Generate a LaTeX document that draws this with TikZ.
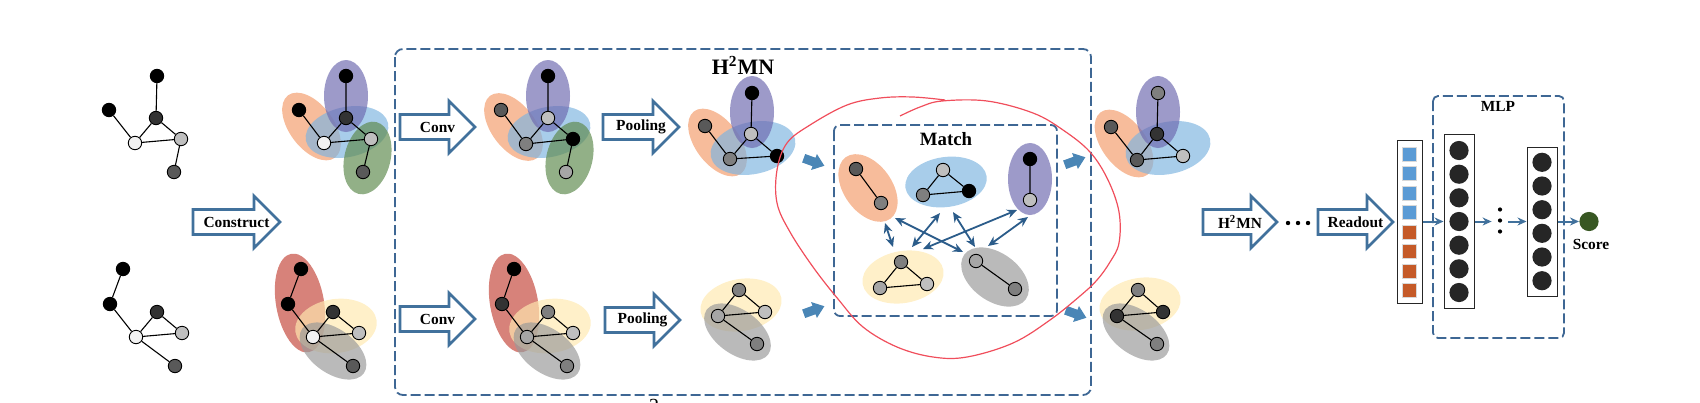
\documentclass[tikz,border=0pt]{standalone}
\usepackage{fontspec}
\setmainfont{Liberation Serif}
\usetikzlibrary{arrows.meta}

\begin{document}
\begin{tikzpicture}[x=0.5pt, y=-0.5pt,
  vtx/.style={circle, draw=black, line width=0.45pt, minimum size=6.7pt, inner sep=0pt},
  edge/.style={line width=0.55pt},
  ell/.style={fill opacity=0.68},
  hollow/.style={draw=arrblue, line width=1.35pt, fill=white},
  lbl/.style={font=\bfseries\fontsize{7.7}{9}\selectfont, inner sep=0pt},
  dbox/.style={draw=boxblue, line width=0.9pt, dash pattern=on 5pt off 2pt},
  blk/.style={fill=blkblue},
  mt/.style={{Stealth[length=5pt,width=4.4pt]}-{Stealth[length=5pt,width=4.4pt]}, draw=matchblue, line width=0.9pt},
  flow/.style={-{Stealth[length=4.5pt,width=4pt]}, draw=arrblue, line width=1pt},
  layer/.style={draw=black!85, line width=0.5pt, inner sep=0pt},
  sq/.style={draw=black!15, line width=0.4pt, minimum size=7pt, inner sep=0pt},
  neuron/.style={circle, fill=neur, minimum size=9.6pt, inner sep=0pt}]
\definecolor{arrblue}{HTML}{41719C}
\definecolor{boxblue}{HTML}{3E6794}
\definecolor{blkblue}{HTML}{4A86B6}
\definecolor{matchblue}{HTML}{2B5C8A}
\definecolor{neur}{HTML}{262626}
\definecolor{vecblue}{HTML}{5B9BD5}
\definecolor{vecorange}{HTML}{C55A28}
\definecolor{scoregreen}{HTML}{385723}
\definecolor{loopred}{HTML}{F04E5C}
\definecolor{eorange}{HTML}{F39C6B}
\definecolor{epurple}{HTML}{6E6AB0}
\definecolor{eblue}{HTML}{7FB5E0}
\definecolor{egreen}{HTML}{5E8A4E}
\definecolor{ered}{HTML}{C4473B}
\definecolor{eyellow}{HTML}{FFE9B0}
\definecolor{egray}{HTML}{9A9A9A}
\definecolor{vdark}{HTML}{333333}
\definecolor{vmid}{HTML}{595959}
\definecolor{vgray}{HTML}{7F7F7F}
\definecolor{vsoft}{HTML}{A6A6A6}
\definecolor{vlight}{HTML}{BFBFBF}
\definecolor{vwhite}{HTML}{F2F2F2}
\useasboundingbox (0,0) rectangle (1700,402);

\node[vtx, fill=black] (a1) at (157,76) {};
\node[vtx, fill=black] (a2) at (109,110) {};
\node[vtx, fill=vdark] (a3) at (156,118) {};
\node[vtx, fill=vwhite] (a4) at (135,143) {};
\node[vtx, fill=vlight] (a5) at (181,139) {};
\node[vtx, fill=vmid] (a6) at (174,172) {};
\draw[edge] (a1) -- (a3) (a2) -- (a4) (a3) -- (a4) (a3) -- (a5) (a4) -- (a5) (a5) -- (a6);
\node[vtx, fill=black] (b1) at (123,269) {};
\node[vtx, fill=black] (b2) at (110,304) {};
\node[vtx, fill=vdark] (b3) at (157,312) {};
\node[vtx, fill=vwhite] (b4) at (136,337) {};
\node[vtx, fill=vlight] (b5) at (182,333) {};
\node[vtx, fill=vmid] (b6) at (175,366) {};
\draw[edge] (b1) -- (b2) (b2) -- (b4) (b3) -- (b4) (b3) -- (b5) (b4) -- (b5) (b4) -- (b6);

\draw[hollow] (193, 222 - 12.5) -- (254, 222 - 12.5) -- (254, 222 - 26) -- (280, 222) -- (254, 222 + 26) -- (254, 222 + 12.5) -- (193, 222 + 12.5) -- cycle (236.5, 222) node[lbl] (construct) {Construct};

\fill[eorange, ell, rotate around={-53:(311.5,126.5)}] (311.5,126.5) ellipse [x radius=39, y radius=22];
\fill[eblue, ell, rotate around={12:(347,132)}] (347,132) ellipse [x radius=42, y radius=25];
\fill[epurple, ell] (346,96) ellipse [x radius=22, y radius=36];
\fill[egreen, ell, rotate around={76:(367.5,158)}] (367.5,158) ellipse [x radius=37, y radius=23];
\node[vtx, fill=black] (ca1) at (346,76) {};
\node[vtx, fill=black] (ca2) at (299,110) {};
\node[vtx, fill=vdark] (ca3) at (346,118) {};
\node[vtx, fill=vwhite] (ca4) at (324,143) {};
\node[vtx, fill=vlight] (ca5) at (371,139) {};
\node[vtx, fill=vmid] (ca6) at (363,172) {};
\draw[edge] (ca1) -- (ca3) (ca2) -- (ca4) (ca3) -- (ca4) (ca3) -- (ca5) (ca4) -- (ca5) (ca5) -- (ca6);
\fill[ered, ell, rotate around={100:(300,303)}] (300,303) ellipse [x radius=50, y radius=24];
\fill[eyellow, ell, rotate around={8:(336,326)}] (336,326) ellipse [x radius=41, y radius=27];
\fill[egray, ell, rotate around={-36:(333,351)}] (333,351) ellipse [x radius=38, y radius=22];
\node[vtx, fill=black] (cb1) at (301,269) {};
\node[vtx, fill=black] (cb2) at (288,304) {};
\node[vtx, fill=vdark] (cb3) at (333,312) {};
\node[vtx, fill=vwhite] (cb4) at (313,337) {};
\node[vtx, fill=vlight] (cb5) at (359,333) {};
\node[vtx, fill=vmid] (cb6) at (353,366) {};
\draw[edge] (cb1) -- (cb2) (cb2) -- (cb4) (cb3) -- (cb4) (cb3) -- (cb5) (cb4) -- (cb5) (cb4) -- (cb6);

\draw[dbox, rounded corners=4pt] (395,49) rectangle (1091,395);
\node[font=\bfseries\fontsize{11}{13}\selectfont, inner sep=0pt] (h2mn) at (743,65) {H\textsuperscript{2}MN};
\node[font=\fontsize{10}{12}\selectfont, inner sep=0pt, anchor=north] (cut2) at (654,398.5) {2};

\draw[hollow] (400, 127 - 12.5) -- (449, 127 - 12.5) -- (449, 127 - 26) -- (475, 127) -- (449, 127 + 26) -- (449, 127 + 12.5) -- (400, 127 + 12.5) -- cycle (437.5, 127) node[lbl] (conva) {Conv};
\draw[hollow] (400, 319 - 12.5) -- (449, 319 - 12.5) -- (449, 319 - 26) -- (475, 319) -- (449, 319 + 26) -- (449, 319 + 12.5) -- (400, 319 + 12.5) -- cycle (437.5, 319) node[lbl] (convb) {Conv};

\fill[eorange, ell, rotate around={-53:(513.5,127)}] (513.5,127) ellipse [x radius=39, y radius=22];
\fill[eblue, ell, rotate around={12:(549,132)}] (549,132) ellipse [x radius=42, y radius=25];
\fill[epurple, ell] (548,96) ellipse [x radius=22, y radius=36];
\fill[egreen, ell, rotate around={76:(569.5,158)}] (569.5,158) ellipse [x radius=37, y radius=23];
\node[vtx, fill=black] (va1) at (548,76) {};
\node[vtx, fill=vmid] (va2) at (501,110) {};
\node[vtx, fill=vlight] (va3) at (548,118) {};
\node[vtx, fill=vgray] (va4) at (526,144) {};
\node[vtx, fill=black] (va5) at (573,139) {};
\node[vtx, fill=vsoft] (va6) at (566,172) {};
\draw[edge] (va1) -- (va3) (va2) -- (va4) (va3) -- (va4) (va3) -- (va5) (va4) -- (va5) (va5) -- (va6);
\fill[ered, ell, rotate around={100:(514,303)}] (514,303) ellipse [x radius=50, y radius=24];
\fill[eyellow, ell, rotate around={8:(550,326)}] (550,326) ellipse [x radius=41, y radius=27];
\fill[egray, ell, rotate around={-36:(547,351)}] (547,351) ellipse [x radius=38, y radius=22];
\node[vtx, fill=black] (vb1) at (514,269) {};
\node[vtx, fill=vdark] (vb2) at (502,304) {};
\node[vtx, fill=vgray] (vb3) at (548,312) {};
\node[vtx, fill=vsoft] (vb4) at (527,337) {};
\node[vtx, fill=vlight] (vb5) at (573,333) {};
\node[vtx, fill=vgray] (vb6) at (567,366) {};
\draw[edge] (vb1) -- (vb2) (vb2) -- (vb4) (vb3) -- (vb4) (vb3) -- (vb5) (vb4) -- (vb5) (vb4) -- (vb6);

\draw[hollow] (603, 127 - 12.5) -- (653, 127 - 12.5) -- (653, 127 - 26) -- (679, 127) -- (653, 127 + 26) -- (653, 127 + 12.5) -- (603, 127 + 12.5) -- cycle (641, 127) node[lbl] (poola) {Pooling};
\draw[hollow] (605, 320 - 12.5) -- (654, 320 - 12.5) -- (654, 320 - 26) -- (680, 320) -- (654, 320 + 26) -- (654, 320 + 12.5) -- (605, 320 + 12.5) -- cycle (642.5, 320) node[lbl] (poolb) {Pooling};

\fill[eorange, ell, rotate around={-53:(717.5,142.5)}] (717.5,142.5) ellipse [x radius=39, y radius=22];
\fill[eblue, ell, rotate around={12:(753,148)}] (753,148) ellipse [x radius=43, y radius=26];
\fill[epurple, ell] (752,112) ellipse [x radius=22, y radius=36];
\node[vtx, fill=black] (pa1) at (752,93) {};
\node[vtx, fill=vmid] (pa2) at (705,126) {};
\node[vtx, fill=vlight] (pa3) at (751,134) {};
\node[vtx, fill=vgray] (pa4) at (730,159) {};
\node[vtx, fill=black] (pa5) at (777,156) {};
\draw[edge] (pa1) -- (pa3) (pa2) -- (pa4) (pa3) -- (pa4) (pa3) -- (pa5) (pa4) -- (pa5);
\fill[eyellow, ell, rotate around={10:(741,305)}] (741,305) ellipse [x radius=41, y radius=26];
\fill[egray, ell, rotate around={-36:(737.5,332)}] (737.5,332) ellipse [x radius=38, y radius=22];
\node[vtx, fill=vgray] (pb1) at (739,290) {};
\node[vtx, fill=vsoft] (pb2) at (718,316) {};
\node[vtx, fill=vlight] (pb3) at (765,312) {};
\node[vtx, fill=vgray] (pb4) at (757,344) {};
\draw[edge] (pb1) -- (pb2) (pb1) -- (pb3) (pb2) -- (pb3) (pb2) -- (pb4);

\fill[blk, shift={(814,162)}, rotate=-20] (-11,-4.5) -- (0,-4.5) -- (0,-8.5) -- (11,0) -- (0,8.5) -- (0,4.5) -- (-11,4.5) -- cycle;
\fill[blk, shift={(814,310)}, rotate=20] (-11,-4.5) -- (0,-4.5) -- (0,-8.5) -- (11,0) -- (0,8.5) -- (0,4.5) -- (-11,4.5) -- cycle;
\fill[blk, shift={(1075,161)}, rotate=20] (-11,-4.5) -- (0,-4.5) -- (0,-8.5) -- (11,0) -- (0,8.5) -- (0,4.5) -- (-11,4.5) -- cycle;
\fill[blk, shift={(1076,314)}, rotate=-20] (-11,-4.5) -- (0,-4.5) -- (0,-8.5) -- (11,0) -- (0,8.5) -- (0,4.5) -- (-11,4.5) -- cycle;

\draw[dbox, rounded corners=3pt] (834,125) rectangle (1057,316);
\node[font=\bfseries\fontsize{9.4}{11}\selectfont, inner sep=0pt] (matchlbl) at (946,139) {Match};
\fill[eorange, ell, rotate around={-54:(868,188)}] (868,188) ellipse [x radius=38, y radius=24];
\fill[eblue, ell, rotate around={8:(946,182)}] (946,182) ellipse [x radius=41, y radius=25];
\fill[epurple, ell] (1030,179) ellipse [x radius=22, y radius=36];
\fill[eyellow, ell, rotate around={10:(903,277)}] (903,277) ellipse [x radius=41, y radius=26];
\fill[egray, ell, rotate around={-36:(995,277)}] (995,277) ellipse [x radius=38, y radius=24];
\node[vtx, fill=vmid] (mo1) at (856,169) {};
\node[vtx, fill=vgray] (mo2) at (881,203) {};
\node[vtx, fill=vlight] (mb1) at (943,170) {};
\node[vtx, fill=vgray] (mb2) at (923,195) {};
\node[vtx, fill=black] (mb3) at (969,191) {};
\node[vtx, fill=black] (mp1) at (1030,159) {};
\node[vtx, fill=vlight] (mp2) at (1030,200) {};
\node[vtx, fill=vgray] (my1) at (901,262) {};
\node[vtx, fill=vsoft] (my2) at (880,288) {};
\node[vtx, fill=vlight] (my3) at (927,284) {};
\node[vtx, fill=vsoft] (mg1) at (976,261) {};
\node[vtx, fill=vgray] (mg2) at (1015,289) {};
\draw[edge] (mo1) -- (mo2) (mb1) -- (mb2) (mb1) -- (mb3) (mb2) -- (mb3) (mp1) -- (mp2);
\draw[edge] (my1) -- (my2) (my1) -- (my3) (my2) -- (my3) (mg1) -- (mg2);
\coordinate (e1a) at (885,223); \coordinate (e1b) at (893,247);
\coordinate (e2a) at (895,218); \coordinate (e2b) at (963,252);
\coordinate (e3a) at (940,213); \coordinate (e3b) at (912,247);
\coordinate (e4a) at (953,212); \coordinate (e4b) at (975,247);
\coordinate (e5a) at (1017,210); \coordinate (e5b) at (923,249);
\coordinate (e6a) at (1028,217); \coordinate (e6b) at (988,246);
\draw[mt] (e1a) -- (e1b);
\draw[mt] (e2a) -- (e2b);
\draw[mt] (e3a) -- (e3b);
\draw[mt] (e4a) -- (e4b);
\draw[mt] (e5a) -- (e5b);
\draw[mt] (e6a) -- (e6b);

\fill[eorange, ell, rotate around={-53:(1124,143.5)}] (1124,143.5) ellipse [x radius=39, y radius=22];
\fill[eblue, ell, rotate around={12:(1168,148)}] (1168,148) ellipse [x radius=43, y radius=26];
\fill[epurple, ell] (1158,112) ellipse [x radius=22, y radius=36];
\node[vtx, fill=vgray] (fa1) at (1158,93) {};
\node[vtx, fill=vmid] (fa2) at (1111,127) {};
\node[vtx, fill=vdark] (fa3) at (1157,134) {};
\node[vtx, fill=vmid] (fa4) at (1137,160) {};
\node[vtx, fill=vlight] (fa5) at (1183,156) {};
\draw[edge] (fa1) -- (fa3) (fa2) -- (fa4) (fa3) -- (fa4) (fa3) -- (fa5) (fa4) -- (fa5);
\fill[eyellow, ell, rotate around={10:(1140,304)}] (1140,304) ellipse [x radius=41, y radius=26];
\fill[egray, ell, rotate around={-36:(1136,332)}] (1136,332) ellipse [x radius=38, y radius=22];
\node[vtx, fill=vgray] (fb1) at (1138,290) {};
\node[vtx, fill=vdark] (fb2) at (1117,316) {};
\node[vtx, fill=vdark] (fb3) at (1163,312) {};
\node[vtx, fill=vgray] (fb4) at (1157,344) {};
\draw[edge] (fb1) -- (fb2) (fb1) -- (fb3) (fb2) -- (fb3) (fb2) -- (fb4);

\draw[hollow] (1203, 222 - 12.5) -- (1251, 222 - 12.5) -- (1251, 222 - 26) -- (1277, 222) -- (1251, 222 + 26) -- (1251, 222 + 12.5) -- (1203, 222 + 12.5) -- cycle (1240, 222) node[lbl] (h2mnarrow) {H\textsuperscript{2}MN};
\fill (1288,223) circle[radius=2.2] (1298,223) circle[radius=2.2] (1308,223) circle[radius=2.2];
\draw[hollow] (1318, 222 - 12.5) -- (1367, 222 - 12.5) -- (1367, 222 - 26) -- (1393, 222) -- (1367, 222 + 26) -- (1367, 222 + 12.5) -- (1318, 222 + 12.5) -- cycle (1355.5, 222) node[lbl] (readout) {Readout};

\node[layer, minimum width=12.5pt, minimum height=81.5pt] (fvec) at (1409.5,221.5) {};
\node[sq, fill=vecblue] (s1) at (1409.5,154) {};
\node[sq, fill=vecblue] (s2) at (1409.5,173.5) {};
\node[sq, fill=vecblue] (s3) at (1409.5,193) {};
\node[sq, fill=vecblue] (s4) at (1409.5,212.5) {};
\node[sq, fill=vecorange] (s5) at (1409.5,232) {};
\node[sq, fill=vecorange] (s6) at (1409.5,251.5) {};
\node[sq, fill=vecorange] (s7) at (1409.5,271) {};
\node[sq, fill=vecorange] (s8) at (1409.5,290.5) {};
\draw[dbox, rounded corners=2.5pt] (1433,96) rectangle (1564,338);
\node[font=\bfseries\fontsize{7.7}{9}\selectfont, inner sep=0pt] (mlp) at (1498,106) {MLP};
\node[layer, minimum width=15pt, minimum height=87pt] (hid1) at (1459,221.5) {};
\node[neuron] (n11) at (1459,150.5) {};
\node[neuron] (n12) at (1459,174.2) {};
\node[neuron] (n13) at (1459,197.8) {};
\node[neuron] (n14) at (1459,221.5) {};
\node[neuron] (n15) at (1459,245.2) {};
\node[neuron] (n16) at (1459,268.8) {};
\node[neuron] (n17) at (1459,292.5) {};
\node[layer, minimum width=15pt, minimum height=74.5pt] (hid2) at (1542,221.5) {};
\node[neuron] (n21) at (1542,162.3) {};
\node[neuron] (n22) at (1542,186) {};
\node[neuron] (n23) at (1542,209.7) {};
\node[neuron] (n24) at (1542,233.3) {};
\node[neuron] (n25) at (1542,257) {};
\node[neuron] (n26) at (1542,280.7) {};
\node[inner sep=0pt, minimum width=8pt, minimum height=14pt] (mdots) at (1500,221.5) {};
\fill (1500,209.5) circle[radius=2.1] (1500,220.5) circle[radius=2.1] (1500,231.5) circle[radius=2.1];
\node[circle, fill=scoregreen, minimum size=9.6pt, inner sep=0pt] (score) at (1589,221.5) {};
\node[lbl] (scorelbl) at (1591,244.5) {Score};
\draw[flow] (fvec) -- (hid1);
\draw[flow] (hid1) -- (mdots);
\draw[flow] (mdots) -- (hid2);
\draw[flow] (hid2) -- (score);

\draw[loopred, line width=0.6pt] plot[smooth, tension=0.6] coordinates {(900,116) (920,107) (942,101) (987,101) (1033,113) (1063,130) (1090,152) (1108,180) (1119,212) (1119,243) (1110,262) (1097,280) (1080,296) (1050,320) (1013,343) (967,357) (933,357) (897,347) (863,327) (838,299) (813,267) (790,232) (777,203) (777,170) (787,143) (810,125) (847,105) (880,98) (913,97) (945,100)};
\end{tikzpicture}
\end{document}
